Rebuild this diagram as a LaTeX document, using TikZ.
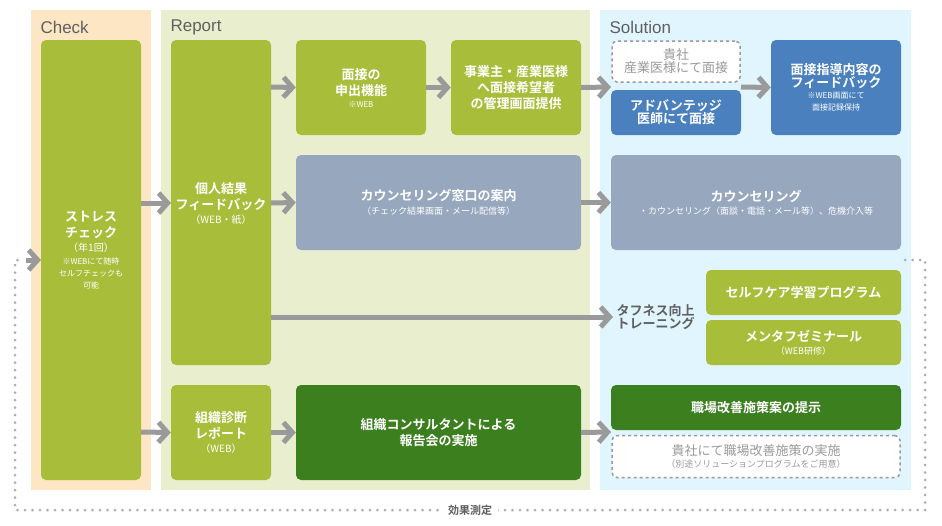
\documentclass[tikz,border=0pt]{standalone}
\usepackage{fontspec}
\setmainfont{Noto Sans CJK JP}[BoldFont={Noto Sans CJK JP Bold}]
\newfontfamily\lat{Liberation Sans}
\newcommand\smf{\mdseries\fontsize{8}{10}\selectfont}
\newcommand\mdf{\mdseries\fontsize{10}{12}\selectfont}
\newcommand\nif{\mdseries\fontsize{9}{11}\selectfont}
\usetikzlibrary{arrows.meta}
\definecolor{olive}{HTML}{A8BE3A}
\definecolor{dgreen}{HTML}{3C7F1E}
\definecolor{mblue}{HTML}{4A80BE}
\definecolor{gblue}{HTML}{97A8BE}
\definecolor{arrg}{HTML}{9A9A9A}
\definecolor{txtg}{HTML}{606060}
\begin{document}
\begin{tikzpicture}[x=1pt,y=-1pt,
 panel/.style={fill=#1,draw=none},
 box/.style={fill=#1,draw=none,rounded corners=5pt,text=white,align=center,font=\bfseries\fontsize{13}{16}\selectfont},
 dbox/.style={draw=arrg,dashed,line width=1.5pt,fill=white,rounded corners=5pt,text=arrg,align=center,font=\bfseries\fontsize{13}{16}\selectfont},
 arr/.style={draw=arrg,line width=5pt,-{Straight Barb[length=9pt,width=20pt,line width=5pt]}},
 ttl/.style={text=txtg,font=\lat\fontsize{17}{20}\selectfont,anchor=west},
 dots/.style={draw=arrg!80,line width=3pt,dash pattern=on 0pt off 7.5pt,line cap=round}]
\useasboundingbox (0,0) rectangle (942,525);
\fill[white] (0,0) rectangle (942,525);
% panels
\fill[panel={yellow!10!orange!20!white}] (31,10) rectangle (151,490);
\fill[panel={olive!25!white}] (161,10) rectangle (590,490);
\fill[panel={cyan!12!white}] (600,10) rectangle (911,490);
\node[ttl] at (37,27) {Check};
\node[ttl] at (167,27) {Report};
\node[ttl] at (606,27) {Solution};
% dotted loop
\draw[dots] (905,260) -- (925,260) -- (925,510) -- (15,510) -- (15,260) -- (25,260);
\node[fill=white,text=txtg,font=\bfseries\fontsize{11}{13}\selectfont,inner xsep=6pt] (kk) at (470,510) {効果測定};
\coordinate (loopend) at (26,260);
% boxes
\fill[olive,rounded corners=5pt] (41,40) rectangle (141,480);
\node[box=olive,anchor=north] (sc) at (91,208) {ストレス\\チェック\\[-2pt]\mdf（年1回）\\[-3pt]\smf ※WEBにて随時\\[-4pt]\smf セルフチェックも\\[-4pt]\smf 可能};
\fill[olive,rounded corners=5pt] (171,40) rectangle (271,365);
\node[box=olive] (kj) at (221,203) {個人結果\\フィードバック\\[-2pt]\mdf（WEB・紙）};
\node[box=olive,minimum width=130pt,minimum height=95pt] (ms) at (361,87.5) {面接の\\申出機能\\[-4pt]\smf ※WEB};
\node[box=olive,minimum width=130pt,minimum height=95pt] (jg) at (516,87.5) {事業主・産業医様\\へ面接希望者\\の管理画面提供};
\node[box=gblue,minimum width=285pt,minimum height=95pt] (mk) at (438.5,202.5) {カウンセリング窓口の案内\\[-2pt]\nif （チェック結果画面・メール配信等）};
\node[box=olive,minimum width=100pt,minimum height=95pt] (sd) at (221,432.5) {組織診断\\レポート\\[-2pt]\mdf（WEB）};
\node[box=dgreen,minimum width=285pt,minimum height=95pt] (kc) at (438.5,432.5) {組織コンサルタントによる\\報告会の実施};
% solution
\node[dbox,minimum width=128pt,minimum height=41pt] (ki) at (676,61.5) {\mdseries 貴社\\[-3pt]\mdseries 産業医様にて面接};
\node[box=mblue,minimum width=130pt,minimum height=45pt] (ad) at (676,112.5) {アドバンテッジ\\[-3pt]医師にて面接};
\node[box=mblue,minimum width=130pt,minimum height=95pt] (fb) at (836,87.5) {面接指導内容の\\[-3pt]フィードバック\\[-5pt]\smf ※WEB画面にて\\[-4pt]\smf 面接記録保持};
\node[box=gblue,minimum width=290pt,minimum height=95pt] (cs) at (756,202.5) {カウンセリング\\[-3pt]\nif ・カウンセリング（面談・電話・メール等）、危機介入等};
\node[text=txtg,font=\bfseries\fontsize{13}{15}\selectfont,align=left,anchor=west] (tf) at (613,317) {タフネス向上\\[-2pt]トレーニング};
\node[box=olive,minimum width=195pt,minimum height=45pt] (sf) at (803.5,292.5) {セルフケア学習プログラム};
\node[box=olive,minimum width=195pt,minimum height=45pt] (mt) at (803.5,342.5) {メンタフゼミナール\\[-3pt]\nif（WEB研修）};
\node[box=dgreen,minimum width=290pt,minimum height=45pt] (sk) at (756,407.5) {職場改善施策案の提示};
\node[dbox,minimum width=288pt,minimum height=42pt] (kj2) at (756,456.5) {\mdseries 貴社にて職場改善施策の実施\\[-4pt]\nif（別途ソリューションプログラムをご用意）};
% arrows
\draw[arr] (loopend) -- (41,260);
\draw[arr] (141,203) -- (171,203);
\draw[arr] (141,432) -- (sd.west);
\draw[arr] (271,87) -- (ms.west);
\draw[arr] (ms.east) -- (jg.west);
\draw[arr] (jg.east) -- (611,87);
\draw[arr] (271,203) -- (mk.west);
\draw[arr] (mk.east) -- (cs.west);
\draw[arr] (271,317) -- (tf.west);
\draw[arr] (sd.east) -- (kc.west);
\draw[arr] (kc.east) -- (611,432);
\draw[arr] (741,87) -- (fb.west);
\end{tikzpicture}
\end{document}
